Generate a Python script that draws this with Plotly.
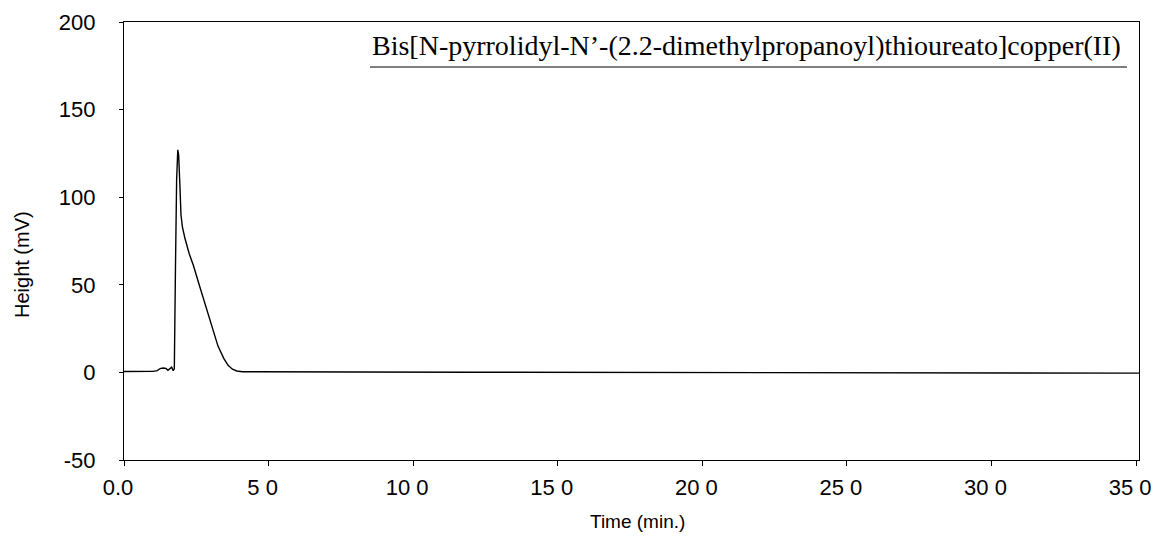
import plotly.graph_objects as go

# Chromatogram trace: retention time (min) vs detector response (mV)
time_min = [0.0, 0.5, 1.0, 1.15, 1.25, 1.35, 1.45, 1.52, 1.58, 1.65, 1.70, 1.74,
            1.78, 1.82, 1.86, 1.89, 1.93, 1.97, 2.02, 2.10, 2.25, 2.40, 2.60,
            2.85, 3.05, 3.25, 3.45, 3.60, 3.75, 3.90, 4.10, 5.0, 8.0, 12.0,
            16.0, 20.0, 25.0, 30.0, 35.1]
height_mv = [0.5, 0.5, 0.6, 1.0, 2.2, 2.5, 2.3, 1.2, 2.0, 3.0, 1.0, 2.0,
             60.0, 110.0, 127.0, 124.0, 108.0, 90.0, 83.0, 77.0, 68.0, 61.0, 50.0,
             36.0, 25.0, 15.0, 8.0, 4.0, 1.8, 0.8, 0.4, 0.3, 0.2, 0.1,
             0.0, 0.0, -0.2, -0.3, -0.4]

x_tick_vals = [0, 5, 10, 15, 20, 25, 30, 35]
x_tick_text = ["0.0", "5 0", "10 0", "15 0", "20 0", "25 0", "30 0", "35 0"]
y_tick_vals = [-50, 0, 50, 100, 150, 200]
y_tick_text = ["-50", "0", "50", "100", "150", "200"]

compound = "Bis[N-pyrrolidyl-N\u2019-(2.2-dimethylpropanoyl)thioureato]copper(II)"

W, H = 1153, 536
L, R, T, B = 124, 14, 22, 76
pw, ph = W - L - R, H - T - B

fig = go.Figure()
fig.add_trace(go.Scatter(
    x=time_min, y=height_mv, mode="lines",
    line=dict(color="black", width=1.4),
    hoverinfo="skip", showlegend=False,
))

sans = "Liberation Sans, Arial, sans-serif"
serif = "Liberation Serif, Times New Roman, serif"

fig.update_layout(
    width=W, height=H, autosize=False,
    margin=dict(l=L, r=R, t=T, b=B, pad=0, autoexpand=False),
    paper_bgcolor="white", plot_bgcolor="white",
    xaxis=dict(
        range=[0, 35.1], tickvals=x_tick_vals, ticktext=x_tick_text,
        ticks="outside", ticklen=5, tickcolor="black", tickwidth=1,
        showline=True, linecolor="black", linewidth=1.3, mirror=True,
        showgrid=False, zeroline=False, ticklabelstandoff=2,
        ticklabelshift=-6, ticklabeloverflow="allow", automargin=False,
        tickfont=dict(family=sans, size=22, color="black"),
    ),
    yaxis=dict(
        range=[-50, 200], tickvals=y_tick_vals, ticktext=y_tick_text,
        ticks="outside", ticklen=4, tickcolor="black", tickwidth=1,
        showline=True, linecolor="black", linewidth=1.3, mirror=True,
        showgrid=False, zeroline=False, ticklabelstandoff=19,
        automargin=False,
        tickfont=dict(family=sans, size=22, color="black"),
    ),
    annotations=[
        dict(text="Time (min.)", xref="paper", yref="paper",
             x=(637 - L) / pw, y=-(521 - (T + ph)) / ph,
             xanchor="center", yanchor="middle", showarrow=False,
             font=dict(family=sans, size=19, color="black")),
        dict(text="Height (mV)", xref="paper", yref="paper",
             x=-(L - 22) / pw, y=1 - (265 - T) / ph, textangle=-90,
             xanchor="center", yanchor="middle", showarrow=False,
             font=dict(family=sans, size=20, color="black")),
        dict(text=compound, xref="paper", yref="paper",
             x=(370 - L) / pw, y=1 - (45 - T) / ph,
             xanchor="left", yanchor="middle", showarrow=False,
             font=dict(family=serif, size=28, color="black")),
    ],
    shapes=[
        dict(type="line", xref="paper", yref="paper",
             x0=(370 - L) / pw, x1=(1127 - L) / pw,
             y0=1 - (67 - T) / ph, y1=1 - (67 - T) / ph,
             line=dict(color="black", width=1.2)),
    ],
)

fig.write_html("out.html", config={"responsive": False})
